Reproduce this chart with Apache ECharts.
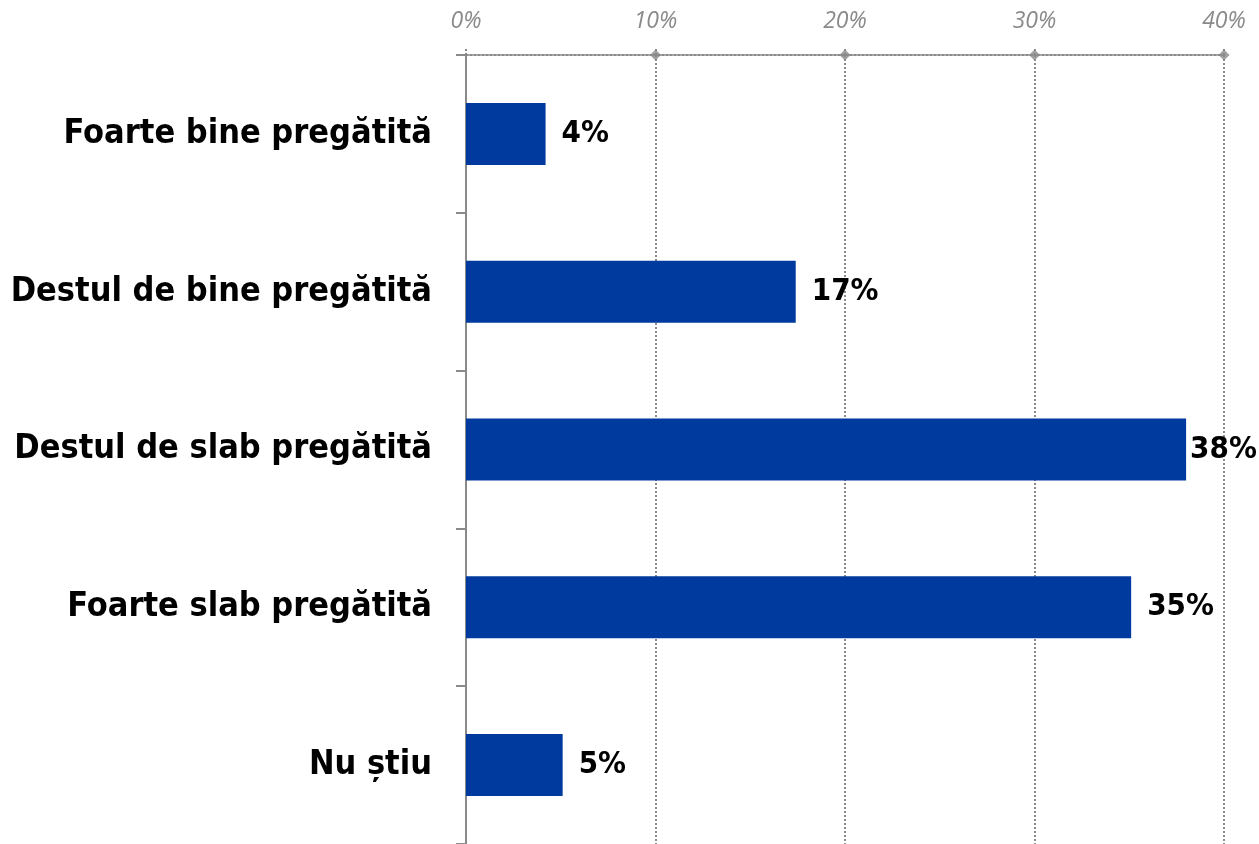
<!DOCTYPE html>
<html>
<head>
<meta charset="utf-8">
<script src="https://cdn.jsdelivr.net/npm/echarts@6/dist/echarts.min.js"></script>
<style>
  html, body { margin: 0; padding: 0; background: #fff; }
  #chart { width: 1259px; height: 844px; }
</style>
</head>
<body>
<div id="chart"></div>
<script>
// categories top to bottom
const categories = [
  'Foarte bine pregătită',
  'Destul de bine pregătită',
  'Destul de slab pregătită',
  'Foarte slab pregătită',
  'Nu știu'
]
const values = [4.2, 17.4, 38.0, 35.1, 5.1]
const xTicks = [0, 10, 20, 30, 40]

const gray = '#8a8a8a'
const labelFont = 'DejaVu Sans Condensed'
const chart = echarts.init(document.getElementById('chart'))

const option = {
  animation: false,
  grid: { left: 466, right: 35, top: 55, bottom: -1, containLabel: false },
  xAxis: {
    type: 'value',
    position: 'top',
    min: 0,
    max: 40,
    interval: 10,
    axisLine: { show: true, onZero: false, lineStyle: { color: gray, type: 'dotted', width: 2 } },
    axisTick: { show: true, length: 6, lineStyle: { color: gray, type: 'dotted', width: 2 } },
    splitLine: { show: true, lineStyle: { color: gray, type: 'dotted', width: 2 } },
    axisLabel: {
      margin: 22,
      color: gray,
      fontStyle: 'italic',
      fontFamily: 'Open Sans',
      fontSize: 23,
      formatter: v => v + '%'
    }
  },
  yAxis: [
    {
      type: 'category',
      inverse: true,
      data: categories,
      axisLine: { show: true, lineStyle: { color: gray, width: 2 } },
      axisTick: { show: true, length: 10, lineStyle: { color: gray, width: 2 } },
      axisLabel: {
        margin: 34,
        color: '#000',
        fontWeight: 'bold',
        fontFamily: labelFont,
        fontSize: 34
      }
    },
    { type: 'value', min: 0, max: 1, show: false }
  ],
  series: [
    {
      type: 'bar',
      data: values.map(v => ({
        value: v,
        // the longest bar's label sits tight against its end
        label: v >= 38 ? { distance: 4 } : undefined
      })),
      barWidth: 62,
      itemStyle: { color: '#003A9E' },
      label: {
        show: true,
        position: 'right',
        distance: 16,
        color: '#000',
        fontWeight: 'bold',
        fontFamily: labelFont,
        fontSize: 31,
        formatter: p => Math.round(p.value) + '%'
      }
    },
    {
      // diamond markers where gridlines meet the top axis
      type: 'scatter',
      yAxisIndex: 1,
      symbol: 'diamond',
      symbolSize: 11,
      itemStyle: { color: gray },
      data: xTicks.slice(1).map(v => [v, 1]),
      z: 5
    }
  ]
}

chart.setOption(option)
</script>
</body>
</html>
